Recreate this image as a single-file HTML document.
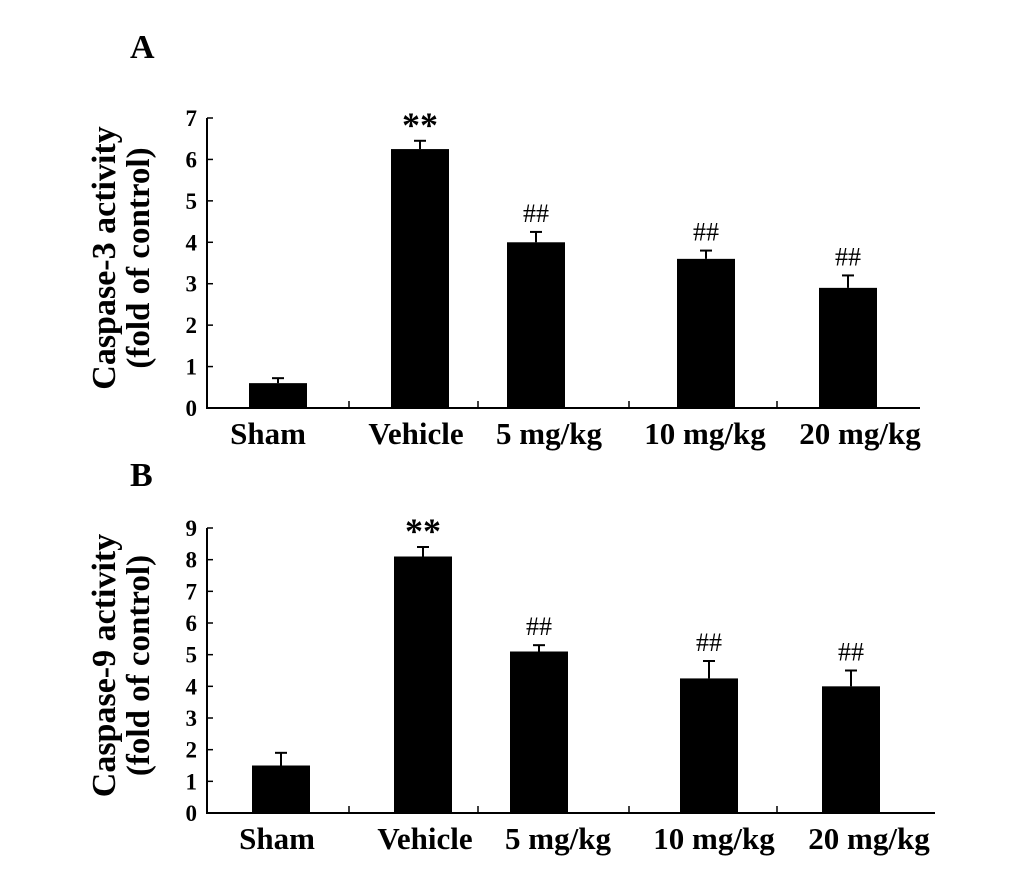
<!DOCTYPE html>
<html><head><meta charset="utf-8"><style>
body{margin:0;background:#fff}
svg{display:block;font-family:"Liberation Serif",serif}
</style></head><body>
<svg id="c" width="1033" height="880"></svg>
<script>
const categories=["Sham","Vehicle","5 mg/kg","10 mg/kg","20 mg/kg"];
const valuesA=[0.6,6.25,4.0,3.6,2.9];
const errorsA=[0.12,0.2,0.25,0.2,0.3];
const marksA=["","**","##","##","##"];
const ticksA=[0,1,2,3,4,5,6,7];
const valuesB=[1.5,8.1,5.1,4.25,4.0];
const errorsB=[0.4,0.3,0.2,0.55,0.5];
const marksB=["","**","##","##","##"];
const ticksB=[0,1,2,3,4,5,6,7,8,9];
const NS="http://www.w3.org/2000/svg";
const svg=document.getElementById('c');
function mk(t,a,txt){const e=document.createElementNS(NS,t);for(const k in a)e.setAttribute(k,a[k]);if(txt!==undefined)e.textContent=txt;svg.appendChild(e);return e;}
const centers=[278,420,536,706,848];
const labelCenters=[268,416,549,705,860];
function panel(p){
  const y=v=>p.y0-(v/p.max)*(p.y0-p.yTop);
  let e=mk('text',{x:p.lx,y:p.ly,'font-size':34,'font-weight':'bold'},p.letter);
  
  
  e=mk('line',{x1:207,y1:p.yTop,x2:207,y2:p.y0,stroke:'#000','stroke-width':2});
  
  
  e=mk('line',{x1:206,y1:p.y0,x2:p.xEnd,y2:p.y0,stroke:'#000','stroke-width':2});
  
  
  p.ticks.forEach(t=>{
    const l=mk('line',{x1:207,y1:y(t),x2:213,y2:y(t),stroke:'#000','stroke-width':1.5});
    
    
    const tx=mk('text',{x:197,y:y(t)+8,'font-size':23,'font-weight':'bold','text-anchor':'end'},t);
    
    
  });
  for(let i=0;i<categories.length-1;i++){
    const xm=(centers[i]+centers[i+1])/2+(i==2?8:0);
    const l=mk('line',{x1:xm,y1:p.y0,x2:xm,y2:p.y0-7,stroke:'#000','stroke-width':1.5});
    
    
  }
  categories.forEach((c,i)=>{
    const cx=centers[i]+(p.dx||0);
    const top=y(p.vals[i]), et=y(p.vals[i]+p.errs[i]);
    const el=mk('line',{x1:cx,y1:et,x2:cx,y2:top,stroke:'#000','stroke-width':2});
    
    
    const ec=mk('line',{x1:cx-6,y1:et,x2:cx+6,y2:et,stroke:'#000','stroke-width':2});
    
    
    const b=mk('rect',{x:cx-29,y:top,width:58,height:p.y0-top,fill:'#000'});
    
    
    if(p.marks[i]){
      const st=p.marks[i]==='**';
      const m=mk('text',{x:cx,y:et-(st?4:10),'font-size':st?36:26,'font-weight':st?'bold':'normal','text-anchor':'middle'},p.marks[i]);
      
      
    }
    const lb=mk('text',{x:labelCenters[i]+(p.ldx||0),y:p.ly2,'font-size':31,'font-weight':'bold','text-anchor':'middle'},c);
    
    
  });
  const cy=(p.y0+p.yTop)/2+p.tdy;
  e=mk('text',{x:0,y:0,'font-size':34,'font-weight':'bold','text-anchor':'middle',transform:`translate(115,${cy}) rotate(-90)`},p.title);
  
  
  e=mk('text',{x:0,y:0,'font-size':33,'font-weight':'bold','text-anchor':'middle',transform:`translate(149,${cy}) rotate(-90)`},'(fold of control)');
  
  
}
panel({letter:'A',lx:130,ly:58,y0:408,yTop:118,max:7,ticks:ticksA,vals:valuesA,errs:errorsA,marks:marksA,xEnd:920,ly2:444,tdy:-5,title:'Caspase-3 activity'});
panel({letter:'B',lx:130,ly:486,y0:813,yTop:528,max:9,ticks:ticksB,vals:valuesB,errs:errorsB,marks:marksB,xEnd:935,ly2:849,dx:3,ldx:9,tdy:-5,title:'Caspase-9 activity'});
</script>
</body></html>
